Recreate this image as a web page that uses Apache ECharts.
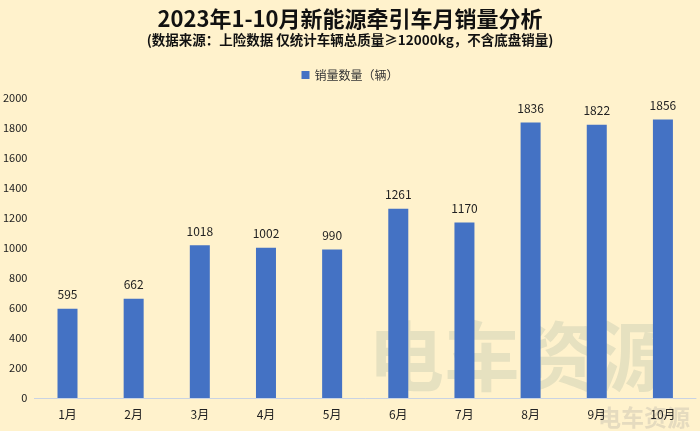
<!DOCTYPE html>
<html><head><meta charset="utf-8">
<script src="https://cdn.jsdelivr.net/npm/echarts@6/dist/echarts.min.js"></script>
<style>html,body{margin:0;padding:0;background:#FFF2CC;}#c{width:700px;height:431px;}</style>
</head><body><div id="c"></div>
<script>
var categories = ['1月','2月','3月','4月','5月','6月','7月','8月','9月','10月'];
var sales = [595, 662, 1018, 1002, 990, 1261, 1170, 1836, 1822, 1856];
var yTicks = [0, 200, 400, 600, 800, 1000, 1200, 1400, 1600, 1800, 2000];
var seriesName = '销量数量（辆）';
var font = '"Noto Sans CJK SC", "Microsoft YaHei", sans-serif';
var chart = echarts.init(document.getElementById('c'));
chart.setOption({
  backgroundColor: '#FFF2CC',
  animation: false,
  title: {
    text: '2023年1-10月新能源牵引车月销量分析',
    subtext: '(数据来源：上险数据 仅统计车辆总质量≥12000kg，不含底盘销量)',
    left: 'center', top: 3, itemGap: 3,
    textStyle: {fontFamily: font, fontSize: 22, fontWeight: 'bold', color: '#111'},
    subtextStyle: {fontFamily: font, fontSize: 13.5, fontWeight: 'bold', color: '#111'}
  },
  legend: {
    top: 64, left: 'center',
    itemWidth: 8, itemHeight: 8, icon: 'rect',
    textStyle: {fontFamily: font, fontSize: 12, color: '#333'}
  },
  grid: {left: 34, right: 4, top: 98, bottom: 33, containLabel: false},
  xAxis: {
    type: 'category', data: categories,
    axisLine: {lineStyle: {color: '#C9D3E3'}},
    axisTick: {show: false},
    axisLabel: {fontFamily: font, fontSize: 12, color: '#222', margin: 10}
  },
  yAxis: {
    type: 'value', min: yTicks[0], max: yTicks[yTicks.length-1], interval: 200,
    splitLine: {show: false},
    axisLine: {show: false}, axisTick: {show: false},
    axisLabel: {fontFamily: font, fontSize: 11, color: '#222', margin: 7,
      formatter: function (v) { return String(v); }}
  },
  graphic: [
    {type: 'text', left: 368, top: 318, z: 0,
     style: {text: '电车资源', font: 'bold 76px ' + font, fill: 'rgba(140,165,150,0.22)'}},
    {type: 'text', left: 598, top: 406, z: 0,
     style: {text: '电车资源', font: 'bold 23px ' + font, fill: 'rgba(150,150,150,0.25)'}}
  ],
  series: [{
    name: seriesName, type: 'bar', data: sales, barWidth: 20,
    itemStyle: {color: '#4472C4'}, z: 2,
    label: {show: true, position: 'top', fontFamily: font, fontSize: 12, color: '#222', distance: 8}
  }]
});
</script></body></html>
